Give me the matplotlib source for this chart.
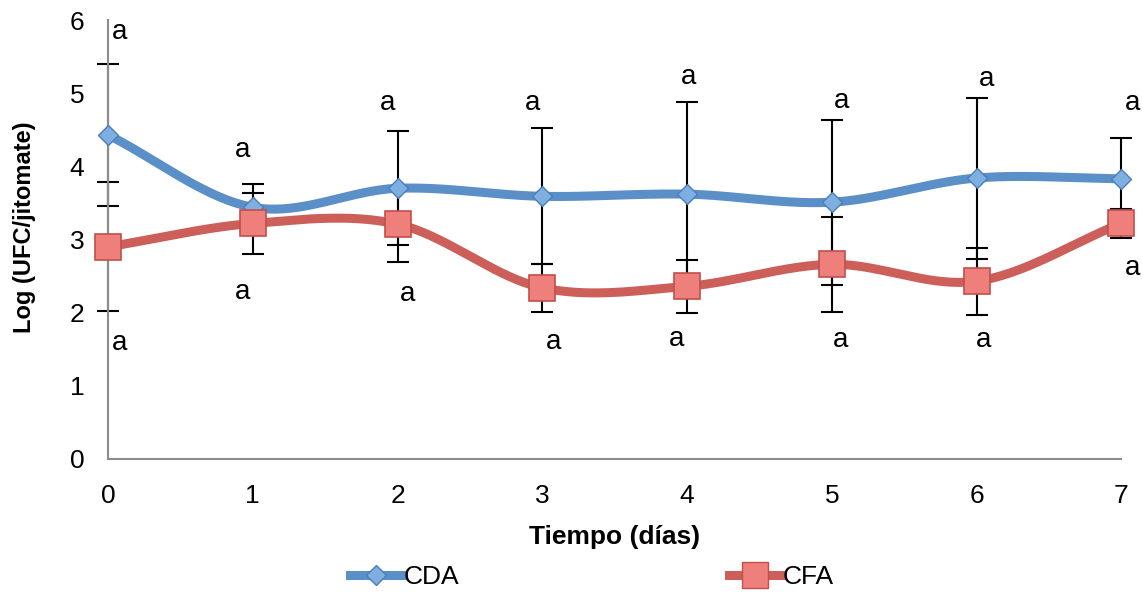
import numpy as np
import matplotlib.pyplot as plt
from matplotlib.lines import Line2D

plt.rcParams['font.family'] = ['Liberation Sans', 'DejaVu Sans']

# datos
dias = [0, 1, 2, 3, 4, 5, 6, 7]
cda = [4.43, 3.44, 3.70, 3.59, 3.62, 3.51, 3.84, 3.83]
cda_err = [0.97, 0.32, 0.78, 0.93, 1.26, 1.13, 1.10, 0.56]
cfa = [2.90, 3.22, 3.21, 2.34, 2.36, 2.66, 2.43, 3.22]
cfa_err = [0.88, 0.42, 0.52, 0.33, 0.36, 0.65, 0.46, 0.20]

# letras de significancia (posición en datos)
letras_cda_x = [0.08, 0.93, 1.93, 2.93, 4.01, 5.07, 6.07, 7.08]
letras_cda_y = [5.83, 4.22, 4.86, 4.86, 5.22, 4.89, 5.20, 4.86]
letras_cfa_x = [0.08, 0.93, 2.07, 3.08, 3.93, 5.06, 6.05, 7.08]
letras_cfa_y = [1.58, 2.28, 2.25, 1.60, 1.64, 1.63, 1.63, 2.61]

azul = '#5B8FC7'
rojo = '#CD5F5A'


def suavizar(x, y, n=40):
    # curva tipo catmull-rom como la línea suavizada de excel
    x = np.asarray(x, float)
    y = np.asarray(y, float)
    px = np.concatenate([[2 * x[0] - x[1]], x, [2 * x[-1] - x[-2]]])
    py = np.concatenate([[2 * y[0] - y[1]], y, [2 * y[-1] - y[-2]]])
    xs, ys = [], []
    t = np.linspace(0, 1, n)
    for i in range(1, len(px) - 2):
        for p, out in ((px, xs), (py, ys)):
            p0, p1, p2, p3 = p[i - 1], p[i], p[i + 1], p[i + 2]
            c1 = p1 + (p2 - p0) / 6
            c2 = p2 - (p3 - p1) / 6
            out.extend((1 - t) ** 3 * p1 + 3 * (1 - t) ** 2 * t * c1
                       + 3 * (1 - t) * t ** 2 * c2 + t ** 3 * p2)
    return np.array(xs), np.array(ys)


fig = plt.figure(figsize=(11.43, 5.92), dpi=100)
ax = fig.add_axes([0.0945, 0.2247, 0.8865, 0.7415])

for serie, err in ((cda, cda_err), (cfa, cfa_err)):
    eb = ax.errorbar(dias, serie, yerr=err, fmt='none', ecolor='black',
                     elinewidth=1.5, capsize=8, capthick=1.5, zorder=2)
    for art in eb.lines[1] + eb.lines[2]:
        art.set_clip_on(False)

sx, sy = suavizar(dias, cda)
ax.plot(sx, sy, color=azul, lw=6.5, solid_capstyle='round', zorder=3, clip_on=False)
ax.plot(dias, cda, ls='none', marker='D', ms=10, mfc='#7FAEE0',
        mec='#4A7EBB', mew=1, zorder=4, clip_on=False)

sx, sy = suavizar(dias, cfa)
ax.plot(sx, sy, color=rojo, lw=6.5, solid_capstyle='round', zorder=3, clip_on=False)
ax.plot(dias, cfa, ls='none', marker='s', ms=19, mfc='#EE7F7A',
        mec='#C0504D', mew=1.2, zorder=4, clip_on=False)

for x, y in zip(letras_cda_x, letras_cda_y):
    ax.text(x, y, 'a', fontsize=20, ha='center', va='center')
for x, y in zip(letras_cfa_x, letras_cfa_y):
    ax.text(x, y, 'a', fontsize=20, ha='center', va='center')

ax.set_xlim(0, 7)
ax.set_ylim(0, 6)
ax.set_xticks(dias)
ax.set_yticks(range(7))
ax.tick_params(axis='y', length=0, labelsize=19, pad=17)
ax.tick_params(axis='x', length=0, labelsize=19, pad=18)
for s in ('top', 'right'):
    ax.spines[s].set_visible(False)
for s in ('left', 'bottom'):
    ax.spines[s].set_color('#8C8C8C')
    ax.spines[s].set_linewidth(1.5)

ax.set_xlabel('Tiempo (días)', fontsize=19, fontweight='bold', labelpad=12)
ax.set_ylabel('Log (UFC/jitomate)', fontsize=17, fontweight='bold')
ax.yaxis.set_label_coords(-0.071, 0.528)

h1 = Line2D([], [], color=azul, lw=6.5, marker='D', ms=10, mfc='#7FAEE0', mec='#4A7EBB')
h2 = Line2D([], [], color=rojo, lw=6.5, marker='s', ms=19, mfc='#EE7F7A', mec='#C0504D')
fig.legend([h1, h2], ['CDA', 'CFA'], loc='center', bbox_to_anchor=(0.518, 0.025),
           ncol=2, frameon=False, fontsize=19, handlelength=2.0,
           handletextpad=0.05, columnspacing=10.2)

fig.savefig('out.png', dpi=100)
